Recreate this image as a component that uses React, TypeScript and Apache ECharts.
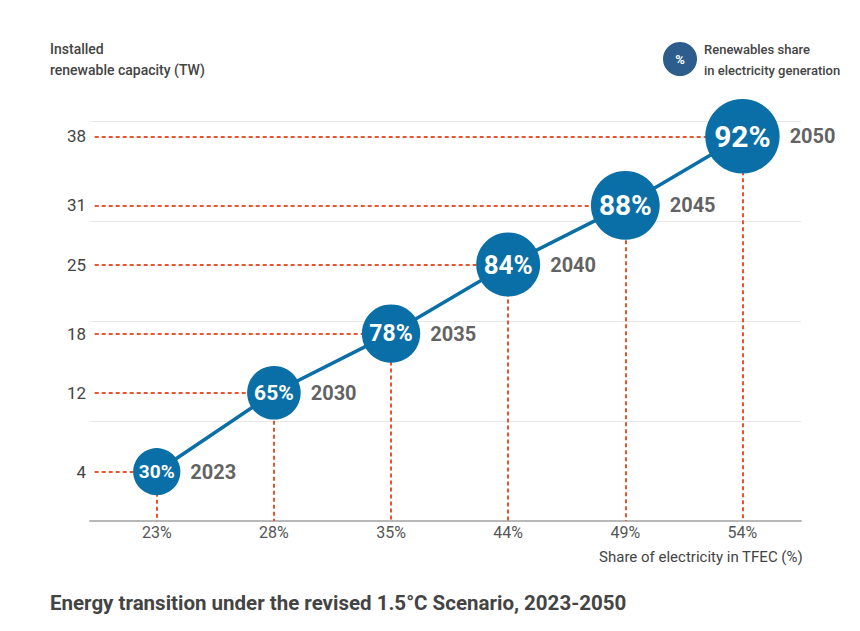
import React, { useEffect, useRef } from "react";
import * as echarts from "echarts";

// Milestone years of the scenario
const years = ["2023", "2030", "2035", "2040", "2045", "2050"];
// Installed renewable capacity (TW)
const capacityTW = [4, 12, 18, 25, 31, 38];
// Renewables share in electricity generation (%)
const renewableShare = [30, 65, 78, 84, 88, 92];
// Share of electricity in total final energy consumption (%)
const electricityShare = [23, 28, 35, 44, 49, 54];
// Capacity values marked on the vertical axis
const capacityTicks = [4, 12, 18, 25, 31, 38];

const FONT = "Roboto, 'Noto Sans', sans-serif";
const BLUE = "#0a6fa6";
const LEGEND_BLUE = "#2d5d8d";
const GUIDE = "#e5552f";
const TEXT = "#444444";

// Axis bounds (layout): the first milestone sits inset from the axis start
const X_MIN = -0.57;
const X_MAX = 5.5;
const Y_MIN = -1;
const Y_MAX = 39.55;
// Guide lines begin just right of the axis start
const GUIDE_START = -0.53;

const bubbleSize = (cap: number) => 44 + 0.8 * cap;

export default function App() {
  const ref = useRef<HTMLDivElement>(null);

  useEffect(() => {
    document.body.style.margin = "0";
    if (!ref.current) return;
    const chart = echarts.init(ref.current, undefined, { renderer: "svg" });

    const points = capacityTW.map((c, i) => [i, c]);

    const guideLines = capacityTW.flatMap((c, i) => [
      [{ coord: [GUIDE_START, c] }, { coord: [i, c] }],
      [{ coord: [i, c] }, { coord: [i, Y_MIN] }],
    ]);

    chart.setOption({
      animation: false,
      textStyle: { fontFamily: FONT },
      title: [
        {
          text: "Installed\nrenewable capacity (TW)",
          left: 50,
          top: 38,
          padding: 0,
          textStyle: { fontSize: 14, fontWeight: 500, color: TEXT, lineHeight: 21, fontFamily: FONT },
        },
        {
          text: "Share of electricity in TFEC (%)",
          right: 57,
          top: 549,
          padding: 0,
          textStyle: { fontSize: 15, fontWeight: "normal", color: TEXT, fontFamily: FONT },
        },
        {
          text: "Energy transition under the revised 1.5°C Scenario, 2023-2050",
          left: 50,
          top: 592,
          padding: 0,
          textStyle: { fontSize: 20.5, fontWeight: "bold", color: TEXT, fontFamily: FONT },
        },
      ],
      graphic: [
        {
          type: "group",
          left: 663,
          top: 42,
          children: [
            { type: "circle", shape: { cx: 17, cy: 17, r: 17 }, style: { fill: LEGEND_BLUE } },
            {
              type: "text",
              x: 17,
              y: 17,
              style: {
                text: "%",
                fill: "#fff",
                font: `bold 13px ${FONT}`,
                align: "center",
                verticalAlign: "middle",
              },
            },
            {
              type: "text",
              x: 41,
              y: 7,
              style: {
                text: "Renewables share",
                fill: TEXT,
                font: `500 13px ${FONT}`,
                verticalAlign: "middle",
              },
            },
            {
              type: "text",
              x: 41,
              y: 28,
              style: {
                text: "in electricity generation",
                fill: TEXT,
                font: `500 13px ${FONT}`,
                verticalAlign: "middle",
              },
            },
          ],
        },
      ],
      grid: { left: 90, right: 59, top: 121, bottom: 110 },
      xAxis: {
        type: "value",
        min: X_MIN,
        max: X_MAX,
        splitLine: { show: false },
        axisTick: { show: false },
        axisLine: { show: true, onZero: false, lineStyle: { color: "#b8b8b8", width: 2 } },
        axisLabel: {
          customValues: electricityShare.map((_, i) => i),
          formatter: (v: number) => `${electricityShare[Math.round(v)]}%`,
          color: "#555",
          fontSize: 16,
          margin: 3,
          fontFamily: FONT,
        },
      },
      yAxis: [
        {
          type: "value",
          min: Y_MIN,
          max: Y_MAX,
          splitLine: { show: false },
          axisLine: { show: false },
          axisTick: { show: false },
          axisLabel: {
            customValues: capacityTicks,
            color: TEXT,
            fontSize: 17,
            margin: 4,
            fontFamily: FONT,
          },
        },
        {
          // Background grid lines
          type: "value",
          min: 0,
          max: 4,
          interval: 1,
          position: "left",
          axisLine: { show: false },
          axisTick: { show: false },
          axisLabel: { show: false },
          splitLine: { show: true, lineStyle: { color: "#e8e8e8", width: 1 } },
        },
      ],
      series: [
        {
          name: "guides",
          type: "line",
          data: [],
          z: 1,
          silent: true,
          markLine: {
            z: 1,
            silent: true,
            symbol: ["none", "none"],
            label: { show: false },
            emphasis: { disabled: true },
            lineStyle: { color: GUIDE, width: 2, type: [4, 3] },
            data: guideLines,
          },
        },
        {
          name: "Renewables share",
          type: "line",
          z: 3,
          symbol: "circle",
          lineStyle: { color: BLUE, width: 3.5 },
          itemStyle: { color: BLUE, opacity: 1 },
          data: points.map((p, i) => ({
            value: p,
            symbolSize: bubbleSize(capacityTW[i]),
            label: { fontSize: Math.round(bubbleSize(capacityTW[i]) * 0.4) },
          })),
          label: {
            show: true,
            position: "inside",
            formatter: (p: any) => `${renewableShare[p.dataIndex]}%`,
            color: "#fff",
            fontWeight: "bold",
            fontFamily: FONT,
          },
          emphasis: { disabled: true },
        },
        {
          name: "years",
          type: "scatter",
          z: 4,
          silent: true,
          data: points.map((p, i) => ({ value: p, symbolSize: bubbleSize(capacityTW[i]) })),
          itemStyle: { color: "rgba(0,0,0,0)" },
          label: {
            show: true,
            position: "right",
            distance: 10,
            formatter: (p: any) => years[p.dataIndex],
            color: "#383838",
            fontSize: 20,
            fontWeight: "bold",
            fontFamily: FONT,
          },
          emphasis: { disabled: true },
        },
      ],
    });

    return () => chart.dispose();
  }, []);

  return <div ref={ref} style={{ width: 860, height: 631 }} />;
}
